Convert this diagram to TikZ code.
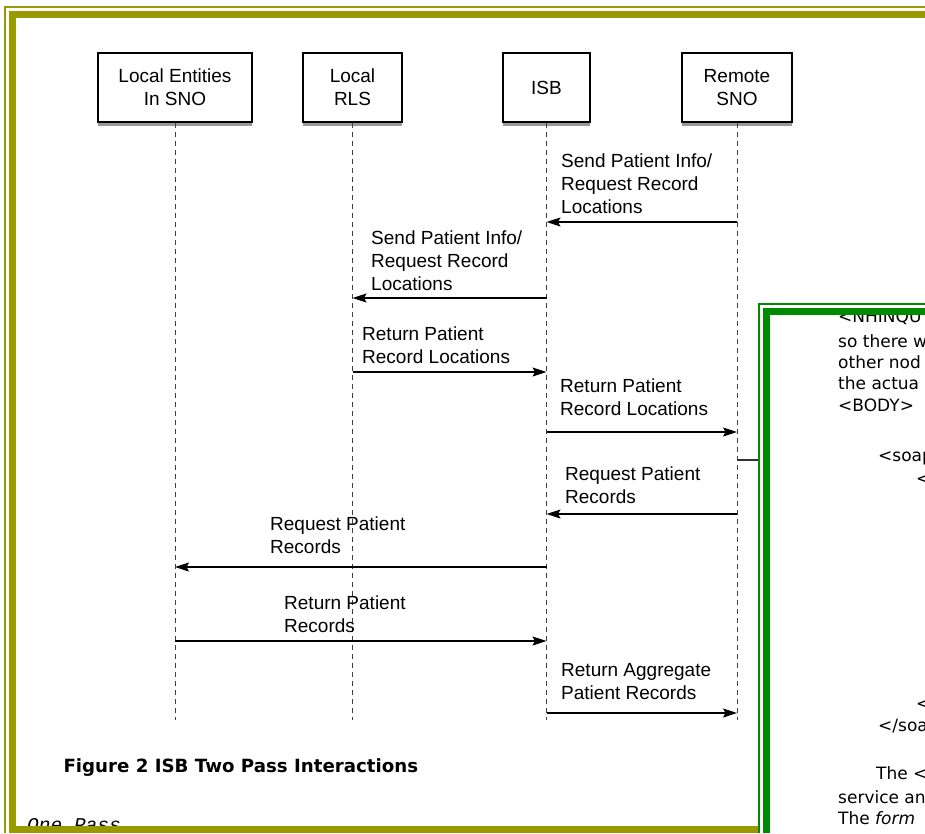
\documentclass[tikz,border=0pt]{standalone}
\usepackage{fontspec}
\setmainfont{Liberation Sans}
\newfontfamily\verdana{DejaVu Sans}
\newfontfamily\typewriter{Liberation Mono}
\usetikzlibrary{arrows.meta,shadows}
\definecolor{frameolive}{HTML}{999900}
\definecolor{framegreen}{HTML}{008A00}
\tikzset{
  actor/.style={draw, rectangle, line width=1.2pt, fill=white, minimum height=69pt, align=center,
    font=\fontsize{19}{23}\selectfont,
    drop shadow={shadow xshift=0pt, shadow yshift=-3.5pt, opacity=0.4, fill=black}},
  lifeline/.style={line width=1pt, black!75, dash pattern=on 5pt off 4pt},
  msg/.style={-{Stealth[length=14pt, width=9pt, inset=2.5pt]}, line width=1.3pt},
  msglabel/.style={anchor=north west, align=left, inner sep=0pt, font=\fontsize{19}{23}\selectfont},
  pagetext/.style={anchor=base west, inner sep=0pt, font=\verdana\fontsize{17}{21}\selectfont}
}
\begin{document}
\begin{tikzpicture}[x=1pt, y=-1pt]
\useasboundingbox (0,0) rectangle (925,833);
\fill[white] (0,0) rectangle (925,833);
\node[actor, minimum width=154pt] (local) at (175,87.5) {Local Entities\\In SNO};
\node[actor, minimum width=99pt] (rls) at (352.5,87.5) {Local\\RLS};
\node[actor, minimum width=87pt] (isb) at (546.5,87.5) {ISB};
\node[actor, minimum width=110pt] (remote) at (737,87.5) {Remote\\SNO};
\coordinate (bottom) at (0,720);
\draw[lifeline] (local) -- (local |- bottom);
\draw[lifeline] (rls) -- (rls |- bottom);
\draw[lifeline] (isb) -- (isb |- bottom);
\draw[lifeline] (remote) -- (remote |- bottom);
\coordinate (y1) at (0,222);
\coordinate (y2) at (0,298);
\coordinate (y3) at (0,372);
\coordinate (y4) at (0,432);
\coordinate (y5) at (0,514);
\coordinate (y6) at (0,567);
\coordinate (y7) at (0,641);
\coordinate (y8) at (0,713);
\node[msglabel] (l1) at (561,154) {Send Patient Info/\\Request Record\\Locations};
\node[msglabel] (l2) at (371,231) {Send Patient Info/\\Request Record\\Locations};
\node[msglabel] (l3) at (362,327) {Return Patient\\Record Locations};
\node[msglabel] (l4) at (560,379) {Return Patient\\Record Locations};
\node[msglabel] (l5) at (565,467) {Request Patient\\Records};
\node[msglabel] (l6) at (270,517) {Request Patient\\Records};
\node[msglabel] (l7) at (284,596) {Return Patient\\Records};
\node[msglabel] (l8) at (561,663) {Return Aggregate\\Patient Records};
\draw[msg] (remote |- y1) -- (isb |- y1);
\draw[msg] (isb |- y2) -- (rls |- y2);
\draw[msg] (rls |- y3) -- (isb |- y3);
\draw[msg] (isb |- y4) -- (remote |- y4);
\draw[msg] (remote |- y5) -- (isb |- y5);
\draw[msg] (isb |- y6) -- (local |- y6);
\draw[msg] (local |- y7) -- (isb |- y7);
\draw[msg] (isb |- y8) -- (remote |- y8);
\coordinate (gleft) at (759,460);
\draw[line width=1.2pt, black!80] (remote |- gleft) -- (gleft);
\node[anchor=west, font=\verdana\bfseries\fontsize{18.2}{21}\selectfont] (caption) at (60,768) {Figure 2 ISB Two Pass Interactions};
\node[anchor=base west, inner sep=0pt, font=\typewriter\itshape\fontsize{19.5}{21}\selectfont] (onepass) at (27,831) {One Pass};
\draw[frameolive, line width=2pt] (4.5,833) -- (4.5,6.5) -- (925,6.5);
\fill[frameolive] (9,11) rectangle (925,18);
\fill[frameolive] (9,11) rectangle (16,833);
\fill[frameolive] (9,826) rectangle (925,833);
\fill[white] (758,303) rectangle (925,833);
\draw[framegreen, line width=2pt] (759,833) -- (759,304) -- (925,304);
\fill[framegreen] (763,308) rectangle (925,315);
\fill[framegreen] (763,308) rectangle (770,833);
\begin{scope}
\clip (771,315) rectangle (925,833);
\node[pagetext] (p1) at (838,322) {<NHINQU};
\node[pagetext] (p2) at (838,347) {so there w};
\node[pagetext] (p3) at (838,368) {other nod};
\node[pagetext] (p4) at (838,389) {the actua};
\node[pagetext] (p5) at (838,411) {<BODY>};
\node[pagetext] (p6) at (878,461) {<soap};
\node[pagetext] (p7) at (916,484) {<};
\node[pagetext] (p8) at (916,709) {<};
\node[pagetext] (p9) at (878,731) {</soa};
\node[pagetext] (p10) at (876,779) {The <};
\node[pagetext] (p11) at (838,803) {service an};
\node[pagetext] (p12) at (838,824) {The \textit{form}};
\end{scope}
\end{tikzpicture}
\end{document}
